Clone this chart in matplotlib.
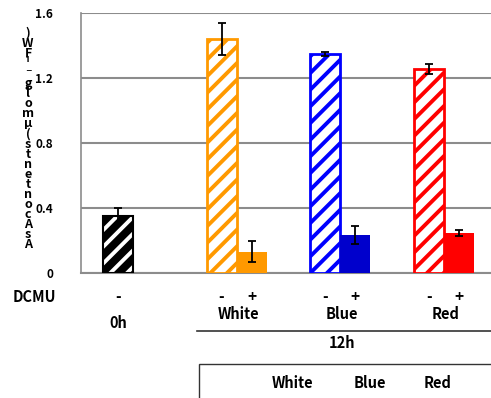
import matplotlib.pyplot as plt
from matplotlib.patches import Rectangle
from matplotlib.lines import Line2D

plt.rcParams['font.family'] = ['Noto Sans CJK JP', 'DejaVu Sans']
plt.rcParams['hatch.linewidth'] = 2.8

lights = ["White", "Blue", "Red"]
minus_vals = [1.44, 1.35, 1.255]
minus_err = [0.10, 0.012, 0.03]
plus_vals = [0.13, 0.235, 0.245]
plus_err = [0.065, 0.055, 0.02]
dark_val = 0.35
dark_err = 0.05
ylabel = "AsA contents (μmol g⁻¹ FW)"
yticks = [0, 0.4, 0.8, 1.2, 1.6]
ytick_labels = ["0", "0.4", "0.8", "1.2", "1.6"]

hatch_colors = ["#FF9900", "#0000FF", "#FF0000"]
solid_colors = ["#FF9900", "#0000CC", "#FF0000"]

W, H = 491, 398


def px(x, y):
    return x / W, 1 - y / H


fig = plt.figure(figsize=(W / 100, H / 100), dpi=100)
ax = fig.add_axes([81 / W, 1 - 273 / H, 410 / W, 260 / H])

step = 3.45
err_kw = dict(fmt="none", ecolor="black", elinewidth=1.3, capsize=3, capthick=1.3, zorder=6)

# 0h, no DCMU
ax.bar(0, dark_val, width=1, color="black", edgecolor="white", hatch="//", linewidth=0, zorder=3)
ax.bar(0, dark_val, width=1, fill=False, edgecolor="black", linewidth=1.5, zorder=4)
ax.errorbar(0, dark_val, yerr=dark_err, **err_kw)

# 12h, - / + DCMU
for i in range(len(lights)):
    x = step * (i + 1)
    ax.bar(x, minus_vals[i], width=1, facecolor="white", edgecolor=hatch_colors[i],
           hatch="//", linewidth=2, zorder=3)
    ax.bar(x + 1, plus_vals[i], width=1, color=solid_colors[i], linewidth=0, zorder=3)
    ax.errorbar(x, minus_vals[i], yerr=minus_err[i], **err_kw)
    ax.errorbar(x + 1, plus_vals[i], yerr=plus_err[i], **err_kw)

    ax.text(x, -0.145, "-", ha="center", va="center", fontsize=11, fontweight="bold", clip_on=False)
    ax.text(x + 1, -0.145, "+", ha="center", va="center", fontsize=11, fontweight="bold", clip_on=False)
    ax.text(x + 0.55, -0.255, lights[i], ha="center", va="center", fontsize=10.5,
            fontweight="bold", clip_on=False)

ax.text(0, -0.145, "-", ha="center", va="center", fontsize=11, fontweight="bold", clip_on=False)
ax.text(0, -0.31, "0h", ha="center", va="center", fontsize=10.5, fontweight="bold", clip_on=False)
ax.text(step * 2 + 0.55, -0.43, "12h", ha="center", va="center", fontsize=10.5,
        fontweight="bold", clip_on=False)

ax.set_xlim(-1.233, 12.43)
ax.set_ylim(0, 1.6)
ax.set_yticks(yticks)
ax.set_yticklabels(ytick_labels, fontsize=8.5, fontweight="bold")
ax.tick_params(axis="y", length=0, pad=20)
ax.set_xticks([])
ax.yaxis.grid(True, color="#8c8c8c", linewidth=1.5)
ax.set_axisbelow(True)
for s in ["top", "right"]:
    ax.spines[s].set_visible(False)
ax.spines["left"].set_color("#8c8c8c")
ax.spines["bottom"].set_color("#8c8c8c")
ax.spines["left"].set_linewidth(1.2)
ax.spines["bottom"].set_linewidth(1.5)

# stacked y label
chars = [c for c in ylabel if c != " "]
y0, y1 = 245, 33
for k, c in enumerate(chars):
    y = y0 + (y1 - y0) * k / (len(chars) - 1)
    fig.text(*px(28, y), c, ha="center", va="center", fontsize=9, fontweight="bold")

fig.text(*px(34, 297), "DCMU", ha="center", va="center", fontsize=10.5, fontweight="bold")

fig.add_artist(Line2D([197 / W, 1.0], [1 - 331 / H] * 2, color="#333333", linewidth=1.2))

fig.add_artist(Rectangle(px(199, 420), (W - 199 + 20) / W, 56 / H, fill=False,
                         edgecolor="#333333", linewidth=1.0))
for name, xx in zip(lights, [293, 370, 438]):
    fig.text(*px(xx, 383), name, ha="center", va="center", fontsize=10.5, fontweight="bold")

fig.savefig("out.png", dpi=100)
